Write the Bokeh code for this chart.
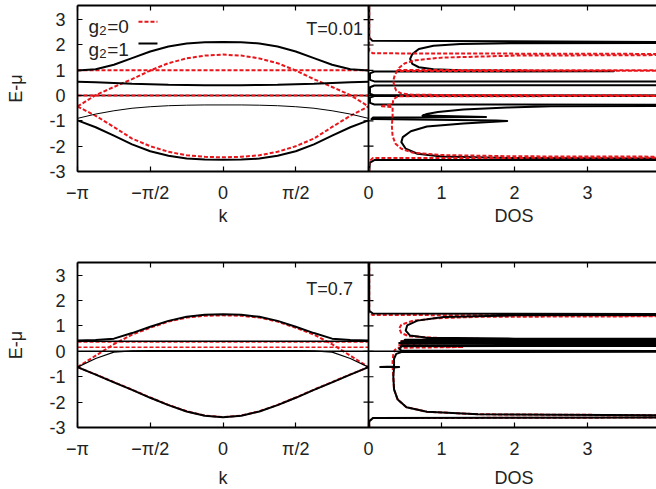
import math
from bokeh.plotting import figure
from bokeh.models import Range1d, LinearAxis, FixedTicker, Label, Span
from bokeh.layouts import column
from bokeh.embed import file_html
from bokeh.resources import INLINE

PI = math.pi

# ---------------- data ----------------
# k sample points in units of pi
k_frac = [-1.0, -0.875, -0.75, -0.625, -0.5, -0.375, -0.25, -0.125, 0.0,
          0.125, 0.25, 0.375, 0.5, 0.625, 0.75, 0.875, 1.0]
k_ends = [-1.0, 1.0]

# ---- T = 0.01 : bands ----
t001_g1_top = [0.99, 1.04, 1.22, 1.48, 1.74, 1.94, 2.06, 2.11, 2.12, 2.11, 2.06, 1.94, 1.74, 1.48, 1.22, 1.04, 0.99]
t001_g1_mid = [0.55, 0.53, 0.50, 0.47, 0.45, 0.43, 0.42, 0.41, 0.41, 0.41, 0.42, 0.43, 0.45, 0.47, 0.50, 0.53, 0.55]
t001_g1_thin = [-0.90, -0.73, -0.60, -0.50, -0.44, -0.40, -0.38, -0.37, -0.37, -0.37, -0.38, -0.40, -0.44, -0.50, -0.60, -0.73, -0.90]
t001_g1_low = [-0.98, -1.25, -1.58, -1.93, -2.20, -2.38, -2.49, -2.53, -2.54, -2.53, -2.49, -2.38, -2.20, -1.93, -1.58, -1.25, -0.98]
t001_g1_zero = [0.0, 0.0]
t001_g0_up = [-0.43, 0.02, 0.34, 0.65, 0.99, 1.28, 1.47, 1.58, 1.62, 1.58, 1.47, 1.28, 0.99, 0.65, 0.34, 0.02, -0.43]
t001_g0_low = [-0.43, -0.80, -1.24, -1.70, -2.00, -2.22, -2.36, -2.42, -2.44, -2.42, -2.36, -2.22, -2.00, -1.70, -1.24, -0.80, -0.43]
t001_g0_flat1 = [1.0, 1.0]
t001_g0_flat0 = [0.0, 0.0]

# ---- T = 0.7 : bands ----
t07_g1_top = [0.43, 0.45, 0.50, 0.72, 0.97, 1.20, 1.36, 1.44, 1.46, 1.44, 1.36, 1.20, 0.97, 0.72, 0.50, 0.45, 0.43]
t07_g1_rise = [-0.62, -0.28, -0.03, 0.02, 0.03, 0.03, 0.03, 0.03, 0.03, 0.03, 0.03, 0.03, 0.03, 0.02, -0.03, -0.28, -0.62]
t07_g1_low = [-0.62, -0.92, -1.22, -1.52, -1.83, -2.12, -2.37, -2.54, -2.60, -2.54, -2.37, -2.12, -1.83, -1.52, -1.22, -0.92, -0.62]
t07_g1_flat_a = [0.40, 0.40]
t07_g1_flat_0 = [0.0, 0.0]
t07_g0_up = [-0.62, -0.17, 0.28, 0.66, 0.93, 1.17, 1.33, 1.40, 1.42, 1.40, 1.33, 1.17, 0.93, 0.66, 0.28, -0.17, -0.62]
t07_g0_low = [-0.62, -0.91, -1.21, -1.51, -1.82, -2.11, -2.36, -2.53, -2.59, -2.53, -2.36, -2.11, -1.82, -1.51, -1.21, -0.91, -0.62]
t07_g0_flat_a = [0.37, 0.37]
t07_g0_flat_b = [0.16, 0.16]

# ---- DOS curves: (DOS, E-mu) pairs ----
dos_t001_g1 = [(0.01, 3.55), (0.01, 2.3), (0.05, 2.17), (5, 2.1), (5, 2.08), (1.95, 2.07), (1.26, 2.04),
               (0.89, 1.97), (0.69, 1.84), (0.60, 1.64), (0.57, 1.45), (0.60, 1.25), (0.69, 1.12),
               (0.89, 1.04), (1.26, 1.0), (1.95, 0.98), (3.36, 0.96), (0.08, 0.95), (0.02, 0.88),
               (0.02, 0.62), (0.08, 0.56), (5, 0.55), (5, 0.41), (0.08, 0.40), (0.02, 0.33),
               (0.02, 0.07), (0.08, 0.01), (5, 0.0), (5, -0.01), (0.08, -0.02), (0.02, -0.08),
               (0.02, -0.29), (0.08, -0.35), (5, -0.36), (5, -0.40), (2.5, -0.42), (1.9, -0.47),
               (1.3, -0.55), (0.95, -0.65), (0.8, -0.73), (0.74, -0.79), (1.61, -0.85), (0.06, -0.87),
               (0.04, -0.93), (1.75, -0.98), (1.9, -1.0), (1.3, -1.1), (0.8, -1.22), (0.58, -1.41),
               (0.47, -1.64), (0.45, -1.84), (0.51, -2.1), (0.67, -2.3), (1.0, -2.41), (1.95, -2.47),
               (5, -2.5), (5, -2.54), (0.08, -2.55), (0.02, -2.65), (0.01, -3.0)]
dos_t001_g0 = [(0.01, 3.55), (0.01, 1.75), (0.06, 1.67), (5, 1.64), (5, 1.61), (2.0, 1.58), (1.0, 1.5),
               (0.65, 1.4), (0.5, 1.28), (0.42, 1.1), (0.4, 1.01), (5, 1.0), (5, 0.99), (0.39, 0.97),
               (0.36, 0.8), (0.34, 0.6), (0.35, 0.4), (0.38, 0.2), (0.45, 0.08), (0.6, 0.03), (5, 0.0),
               (5, -0.01), (0.4, -0.03), (0.34, -0.15), (0.33, -0.35), (0.16, -0.42), (0.33, -0.45),
               (0.33, -0.8), (0.32, -1.2), (0.33, -1.6), (0.37, -1.9), (0.45, -2.1), (0.6, -2.25),
               (1.0, -2.35), (2.0, -2.4), (5, -2.42), (5, -2.45), (0.06, -2.47), (0.01, -2.6), (0.01, -3.0)]
dos_t07_g1 = [(0.01, 3.55), (0.01, 1.6), (0.06, 1.49), (5, 1.46), (5, 1.44), (2.0, 1.42), (1.03, 1.35),
              (0.67, 1.21), (0.53, 1.02), (0.51, 0.82), (0.57, 0.62), (0.8, 0.54), (2.0, 0.5), (5, 0.49),
              (5, 0.47), (0.5, 0.46), (5, 0.44), (5, 0.42), (0.45, 0.40), (5, 0.38), (5, 0.35),
              (0.42, 0.33), (5, 0.31), (5, 0.28), (0.45, 0.26), (5, 0.24), (5, 0.22), (0.45, 0.2),
              (0.42, 0.1), (0.45, 0.03), (5, 0.01), (5, -0.01), (0.45, -0.03), (0.38, -0.1),
              (0.35, -0.3), (0.35, -0.6), (0.16, -0.615), (0.42, -0.62), (0.35, -0.64), (0.34, -1.0),
              (0.35, -1.5), (0.4, -1.9), (0.52, -2.2), (0.8, -2.38), (1.5, -2.48), (5, -2.53),
              (5, -2.6), (0.06, -2.63), (0.01, -2.75), (0.01, -3.0)]
dos_t07_g0 = [(0.01, 3.55), (0.01, 1.5), (0.06, 1.43), (5, 1.41), (5, 1.39), (1.5, 1.36), (0.9, 1.3),
              (0.6, 1.2), (0.45, 1.05), (0.42, 0.9), (0.45, 0.72), (0.55, 0.6), (1.0, 0.52), (1.9, 0.47),
              (0.5, 0.44), (0.45, 0.4), (1.5, 0.34), (0.45, 0.3), (0.42, 0.25), (1.3, 0.17), (0.4, 0.14),
              (0.36, 0.05), (0.34, -0.1), (0.33, -0.4), (0.33, -0.62), (0.34, -1.0), (0.35, -1.5),
              (0.4, -1.9), (0.52, -2.2), (0.8, -2.38), (1.5, -2.48), (5, -2.53), (5, -2.6), (0.06, -2.63),
              (0.01, -2.75), (0.01, -3.0)]
dos_zero_line = [(0.0, 0.0), (5, 0.0)]

y_ticks = [-3, -2, -1, 0, 1, 2, 3]
y_tick_labels = ["-3", "-2", "-1", "0", "1", "2", "3"]
k_tick_frac = [-1.0, -0.5, 0.0, 0.5]
k_tick_labels = ["\u2212\u03c0", "\u2212\u03c0/2", "0", "\u03c0/2"]
dos_ticks = [0, 1, 2, 3]
dos_tick_labels = ["0", "1", "2", "3"]

# ---------------- layout constants ----------------
FONT = "Liberation Sans"
TXT = "#222222"
RED = "#e8151b"
BLACK = "#000000"
FRAME_W = 579       # frame width in px (77 .. 656)
K_PX = 291          # px spanned by k in [-pi, pi]
DOS_PX = 73         # px per DOS unit
K_END = -PI + 2 * PI * FRAME_W / K_PX
DOS_START = -K_PX / DOS_PX
DOS_END = (FRAME_W - K_PX) / DOS_PX
TICK_K = 5 * 2 * PI / K_PX     # 5 px expressed in k units


def dos_to_k(d):
    return PI + d * 2 * PI * DOS_PX / K_PX


def kk(fr):
    return [f * PI for f in fr]


def base_fig(b_top, frame_h, b_bot, y0, y1):
    p = figure(frame_width=FRAME_W, frame_height=frame_h,
               min_border_left=77, min_border_right=0,
               min_border_top=b_top, min_border_bottom=b_bot,
               x_range=Range1d(-PI, K_END), y_range=Range1d(y0, y1),
               x_axis_type=None, y_axis_type=None,
               output_backend="svg", toolbar_location=None)
    p.extra_x_ranges = {"dos": Range1d(DOS_START, DOS_END)}
    p.outline_line_color = None
    p.background_fill_color = "white"
    p.border_fill_color = "white"
    return p


def panel(b_top, frame_h, b_bot, y_top, t_text):
    p = base_fig(b_top, frame_h, b_bot, -3, y_top)

    xt = [f * PI for f in k_tick_frac] + [dos_to_k(d) for d in dos_ticks]
    xl = k_tick_labels + dos_tick_labels
    overrides = {t: l for t, l in zip(xt, xl)}

    def style(ax):
        ax.axis_line_width = 1.8
        ax.axis_line_color = BLACK
        ax.major_tick_in = 5
        ax.major_tick_out = 0
        ax.minor_tick_in = 0
        ax.minor_tick_out = 0
        ax.major_tick_line_width = 1.2
        ax.major_label_text_font = FONT
        ax.major_label_text_font_size = "18px"
        ax.major_label_text_color = TXT

    left = LinearAxis(ticker=FixedTicker(ticks=y_ticks),
                      major_label_overrides={t: l for t, l in zip(y_ticks, y_tick_labels)},
                      axis_label="E-\u03bc")
    style(left)
    left.major_label_standoff = 12
    left.axis_label_standoff = 20
    left.axis_label_text_font = FONT
    left.axis_label_text_font_size = "18px"
    left.axis_label_text_font_style = "normal"
    left.axis_label_text_color = TXT
    p.add_layout(left, "left")

    bottom = LinearAxis(ticker=FixedTicker(ticks=xt), major_label_overrides=overrides)
    style(bottom)
    bottom.major_label_standoff = 11
    p.add_layout(bottom, "below")

    top = LinearAxis(ticker=FixedTicker(ticks=xt),
                     major_label_overrides={t: "" for t in xt})
    style(top)
    top.major_label_text_font_size = "0px"
    top.major_label_standoff = 0
    p.add_layout(top, "above")

    # divider between band panel and DOS panel, with its inward ticks on both sides
    p.add_layout(Span(location=PI, dimension="height", line_color=BLACK, line_width=1.8))
    p.segment(x0=[PI - TICK_K] * len(y_ticks), y0=y_ticks, x1=[PI + TICK_K] * len(y_ticks),
              y1=y_ticks, line_color=BLACK, line_width=1.2)

    p.add_layout(Label(x=1.80, y=t_text[1], text=t_text[0], text_align="left",
                       text_baseline="middle", text_font=FONT, text_font_size="18px",
                       text_color=TXT))
    return p


def strip(h, y_text):
    s = base_fig(0, h, 0, 0, h)
    s.add_layout(Label(x=0, y=y_text, text="k", text_align="center", text_baseline="middle",
                       text_font=FONT, text_font_size="18px", text_color=TXT))
    s.add_layout(Label(x=DOS_END / 2 + 0.02, y=y_text, x_range_name="dos", text="DOS",
                       text_align="center", text_baseline="middle",
                       text_font=FONT, text_font_size="18px", text_color=TXT))
    return s


def draw_dos(p, pairs, color, width, dash="solid"):
    p.line([a for a, b in pairs], [b for a, b in pairs], x_range_name="dos",
           line_color=color, line_width=width, line_dash=dash, line_join="round")


K = kk(k_frac)
KE = kk(k_ends)

# ---------------- top panel (T = 0.01) ----------------
p1 = panel(5, 166, 32, 3.56, ("T=0.01", 2.65))
p1.line(KE, t001_g1_zero, line_color=BLACK, line_width=1.5)
p1.line(K, t001_g0_up, line_color=RED, line_width=2, line_dash="4 2")
p1.line(K, t001_g0_low, line_color=RED, line_width=2, line_dash="4 2")
p1.line(KE, t001_g0_flat1, line_color=RED, line_width=2, line_dash="4 2")
p1.line(KE, t001_g0_flat0, line_color=RED, line_width=2, line_dash="4 2")
p1.line(K, t001_g1_top, line_color=BLACK, line_width=2)
p1.line(K, t001_g1_mid, line_color=BLACK, line_width=2)
p1.line(K, t001_g1_thin, line_color=BLACK, line_width=1)
p1.line(K, t001_g1_low, line_color=BLACK, line_width=2)

draw_dos(p1, dos_zero_line, BLACK, 1.5)
draw_dos(p1, dos_t001_g1, BLACK, 2)
draw_dos(p1, dos_t001_g0, RED, 2, "4 2")

# legend (gnuplot style: text then sample)
for txt, yb, col, dash, ys in [("=0", 2.73, RED, "4 2", 2.92), ("=1", 1.82, BLACK, "solid", 2.06)]:
    p1.add_layout(Label(x=-2.904, y=yb, text="g", text_font=FONT, text_font_size="19px",
                        text_baseline="alphabetic", text_color=TXT))
    p1.add_layout(Label(x=-2.67, y=yb - 0.17, text="2", text_font=FONT, text_font_size="13px",
                        text_baseline="alphabetic", text_color=TXT))
    p1.add_layout(Label(x=-2.50, y=yb, text=txt, text_font=FONT, text_font_size="19px",
                        text_baseline="alphabetic", text_color=TXT))
    p1.line([-1.825, -1.415], [ys, ys], line_color=col, line_width=2, line_dash=dash)

s1 = strip(42, 32)

# ---------------- bottom panel (T = 0.7) ----------------
p2 = panel(15, 165, 32, 3.5, ("T=0.7", 2.45))
p2.line(K, t07_g0_low, line_color=RED, line_width=2, line_dash="4 2")
p2.line(K, t07_g0_up, line_color=RED, line_width=2, line_dash="4 2")
p2.line(KE, t07_g0_flat_a, line_color=RED, line_width=1.5, line_dash="4 2")
p2.line(KE, t07_g0_flat_b, line_color=RED, line_width=1.5, line_dash="4 2")
p2.line(K, t07_g1_top, line_color=BLACK, line_width=2)
p2.line(K, t07_g1_rise, line_color=BLACK, line_width=1.2)
p2.line(K, t07_g1_low, line_color=BLACK, line_width=2)
p2.line(KE, t07_g1_flat_a, line_color=BLACK, line_width=1.5)
p2.line(KE, t07_g1_flat_0, line_color=BLACK, line_width=1.5)

draw_dos(p2, dos_t07_g0, RED, 2, "4 2")
draw_dos(p2, dos_zero_line, BLACK, 1.5)
draw_dos(p2, dos_t07_g1, BLACK, 2)

s2 = strip(32, 16)

layout = column(p1, s1, p2, s2, spacing=0)
open("out.html", "w").write(file_html(layout, INLINE))
